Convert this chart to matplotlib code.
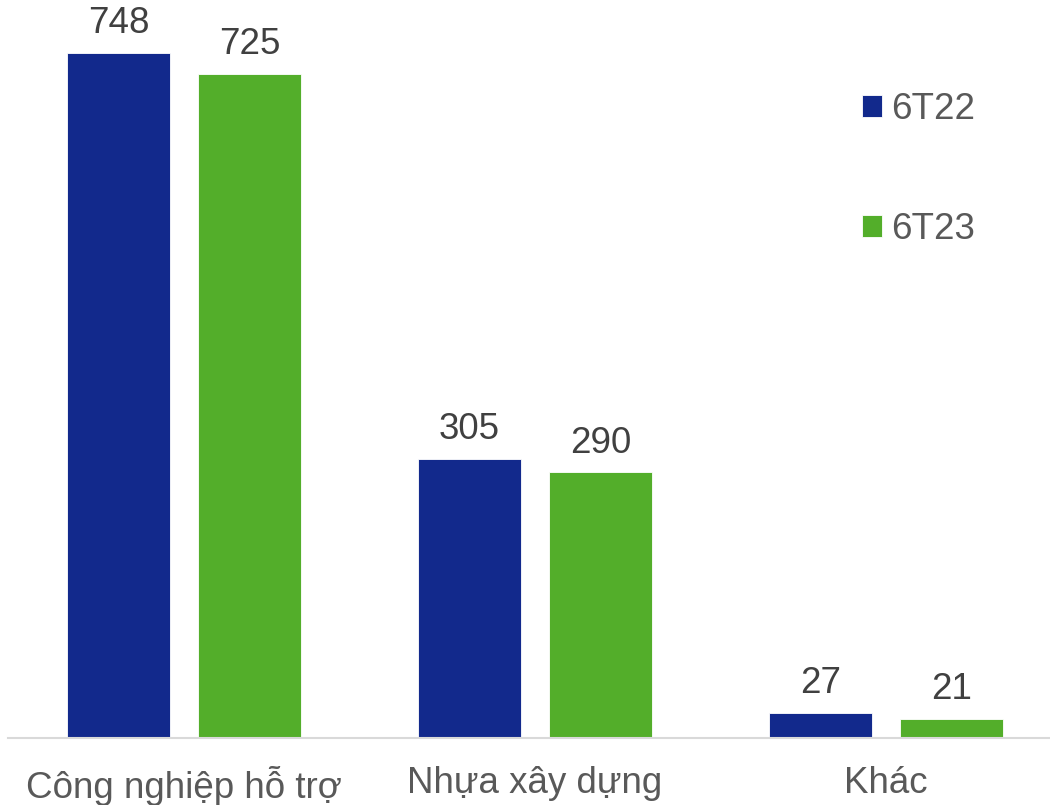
import matplotlib

matplotlib.use("Agg")
import matplotlib.pyplot as plt
import numpy as np

plt.rcParams["font.family"] = ["Liberation Sans", "DejaVu Sans"]

categories = ["Công nghiệp hỗ trợ", "Nhựa xây dựng", "Khác"]
series_names = ["6T22", "6T23"]
values_6t22 = [748, 305, 27]
values_6t23 = [725, 290, 21]

colors = ["#12298C", "#53AE2A"]

fig = plt.figure(figsize=(10.5, 8.05), dpi=100)
ax = fig.add_axes([8 / 1050, (805 - 738) / 805, 1042 / 1050, 738 / 805])

x = np.arange(len(categories))
width = 0.293
offset = 0.1866

bars = []
for i, (vals, name) in enumerate(zip([values_6t22, values_6t23], series_names)):
    b = ax.bar(x + (i * 2 - 1) * offset, vals, width=width, color=colors[i], label=name,
               edgecolor="white", linewidth=0.6)
    bars.append(b)
    for rect, v in zip(b, vals):
        ax.text(rect.get_x() + rect.get_width() / 2, v + 13, str(v),
                ha="center", va="bottom", fontsize=26.5, color="#404040")

ax.set_xlim(-0.501, 2.467)
ax.set_ylim(0, 806)
for side in ["top", "right", "left"]:
    ax.spines[side].set_visible(False)
ax.spines["bottom"].set_color("#D9D9D9")
ax.spines["bottom"].set_linewidth(1.5)
ax.set_yticks([])
ax.set_xticks(x)
ax.set_xticklabels(categories, fontsize=26.5, color="#595959")
ax.tick_params(axis="x", length=0, pad=20)

leg = fig.legend(handles=bars, labels=series_names, loc="upper left",
                 bbox_to_anchor=(829 / 1050, 1 - 59 / 805), frameon=False,
                 fontsize=26.5, labelcolor="#595959", handlelength=0.55,
                 handleheight=0.55, handletextpad=0.25, labelspacing=2.3)

fig.savefig("out.png", dpi=100)
